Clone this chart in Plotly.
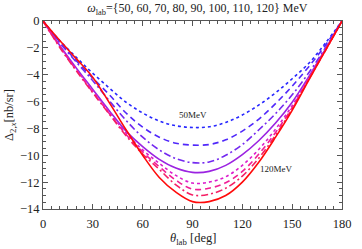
import plotly.graph_objects as go

theta = [0, 10, 20, 30, 40, 50, 60, 70, 80, 90, 100, 110, 120, 130, 140, 150, 160, 170, 180]

d50 = [0, -1.45, -2.7, -3.9, -5.0, -6.05, -6.85, -7.45, -7.8, -7.93, -7.88, -7.55, -7.0, -6.25, -5.35, -4.3, -3.15, -1.65, 0]
d60 = [0, -1.55, -2.95, -4.25, -5.5, -6.85, -7.9, -8.65, -9.1, -9.24, -9.2, -8.85, -8.2, -7.3, -6.15, -4.85, -3.4, -1.8, 0]
d70 = [0, -1.6, -3.05, -4.45, -5.95, -7.4, -8.65, -9.6, -10.25, -10.55, -10.5, -10.0, -9.2, -8.1, -6.9, -5.5, -3.85, -2.0, 0]
d80 = [0, -1.8, -3.5, -5.1, -6.7, -8.2, -9.35, -10.3, -10.95, -11.27, -11.2, -10.75, -9.95, -8.9, -7.6, -6.05, -4.15, -2.1, 0]
d90 = [0, -1.85, -3.6, -5.2, -6.8, -8.35, -9.6, -10.6, -11.5, -12.07, -12.0, -11.6, -10.75, -9.55, -8.05, -6.3, -4.25, -2.15, 0]
d100 = [0, -1.9, -3.65, -5.3, -6.9, -8.45, -9.75, -10.85, -11.85, -12.52, -12.45, -12.05, -11.2, -9.9, -8.3, -6.45, -4.3, -2.15, 0]
d110 = [0, -1.95, -3.7, -5.35, -6.95, -8.55, -9.9, -11.05, -12.2, -12.95, -12.9, -12.45, -11.55, -10.2, -8.5, -6.55, -4.35, -2.2, 0]
d120 = [0, -1.44, -2.8, -4.2, -6.1, -8.1, -10.0, -11.65, -12.75, -13.45, -13.45, -13.0, -12.0, -10.5, -8.65, -6.65, -4.4, -2.2, 0]

series = [d50, d60, d70, d80, d90, d100, d110, d120]
names = ["50 MeV", "60 MeV", "70 MeV", "80 MeV", "90 MeV", "100 MeV", "110 MeV", "120 MeV"]
colors = ["rgb(40,40,255)", "rgb(80,40,250)", "rgb(115,40,240)", "rgb(155,35,225)",
          "rgb(220,30,205)", "rgb(240,30,150)", "rgb(245,30,100)", "rgb(255,10,10)"]
dashes = ["dot", "6px,4px", "7px,3px,2px,3px", "solid", "dot", "6px,4px", "7px,3px,2px,3px", "solid"]

x_ticks = [0, 30, 60, 90, 120, 150, 180]
y_ticks = [0, -2, -4, -6, -8, -10, -12, -14]
y_ticktext = ["0", "−2", "−4", "−6", "−8", "−10", "−12", "−14"]

fig = go.Figure()
for y, n, c, d in zip(series, names, colors, dashes):
    fig.add_trace(go.Scatter(x=theta, y=y, mode="lines", name=n,
                             line=dict(color=c, width=1.6, dash=d, shape="spline", smoothing=1.0),
                             showlegend=False, hoverinfo="skip"))

font_family = "Liberation Serif"
txt = "#222"
axis_common = dict(showline=True, linecolor="#555", linewidth=1, mirror="allticks",
                   ticks="inside", tickcolor="#555", ticklen=5, showgrid=False, zeroline=False,
                   tickfont=dict(family=font_family, size=12.5, color=txt))

fig.update_xaxes(range=[0, 180], tickvals=x_ticks, ticklabelstandoff=3,
                 minor=dict(dtick=5, ticks="inside", ticklen=3, tickcolor="#555"),
                 **axis_common)
fig.update_yaxes(range=[-14, 0], tickvals=y_ticks, ticktext=y_ticktext,
                 minor=dict(dtick=0.5, ticks="inside", ticklen=3, tickcolor="#555"),
                 **axis_common)

# axis titles
fig.add_annotation(xref="paper", yref="paper", x=0.5, y=0, yshift=-30, yanchor="middle",
                   text="<i>θ</i><sub>lab</sub> [deg]", showarrow=False,
                   font=dict(family=font_family, size=12.5, color=txt))
fig.add_annotation(xref="paper", yref="paper", x=0, y=0.5, xshift=-33, xanchor="center",
                   textangle=-90, text="Δ<sub>2,<i>x</i></sub>[nb/sr]", showarrow=False,
                   font=dict(family=font_family, size=12.5, color=txt))

fig.add_annotation(x=90.5, y=-7.0, text="50MeV", showarrow=False,
                   font=dict(family=font_family, size=9, color=txt))
fig.add_annotation(x=140.5, y=-11.0, text="120MeV", showarrow=False,
                   font=dict(family=font_family, size=9, color=txt))

fig.update_layout(
    width=362, height=249,
    margin=dict(l=43, r=11, t=21, b=40),
    paper_bgcolor="white", plot_bgcolor="white",
    hovermode=False,
    title=dict(text="<i>ω</i><sub>lab</sub>={50, 60, 70, 80, 90, 100, 110, 120} MeV",
               x=0.545, xanchor="center", yref="container", y=0.985, yanchor="top",
               font=dict(family=font_family, size=12, color=txt)),
)

fig.write_html("out.html", config={"displayModeBar": False},
               post_script="document.body.style.margin='0';")
